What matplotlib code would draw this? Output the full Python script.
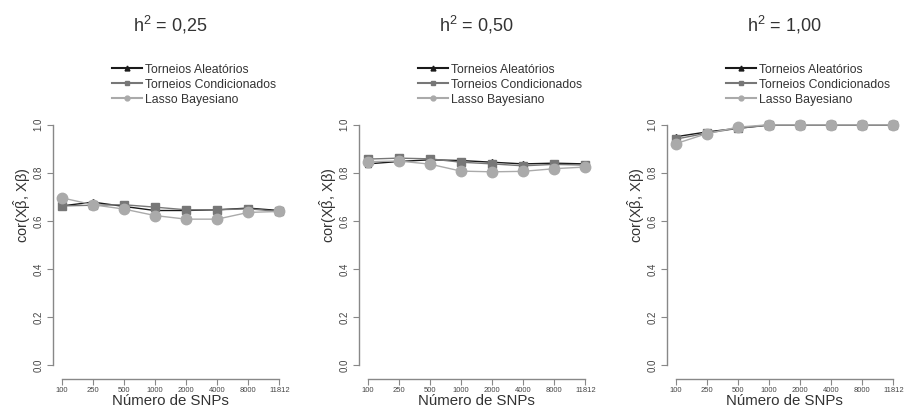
import matplotlib
matplotlib.use("Agg")
import matplotlib.pyplot as plt
from matplotlib.lines import Line2D

plt.rcParams['font.family'] = ['Liberation Sans', 'DejaVu Sans']
plt.rcParams['mathtext.fontset'] = 'custom'
plt.rcParams['mathtext.rm'] = 'Liberation Sans'
plt.rcParams['mathtext.it'] = 'Liberation Sans'
plt.rcParams['mathtext.bf'] = 'Liberation Sans'

snp_labels = ["100", "250", "500", "1000", "2000", "4000", "8000", "11812"]
titles = ["0,25", "0,50", "1,00"]
series_names = ["Torneios Aleatórios", "Torneios Condicionados", "Lasso Bayesiano"]

aleatorios = [
    [0.662, 0.678, 0.660, 0.643, 0.643, 0.646, 0.653, 0.643],
    [0.837, 0.847, 0.854, 0.851, 0.844, 0.837, 0.840, 0.837],
    [0.950, 0.970, 0.985, 0.999, 0.999, 0.999, 0.999, 0.999],
]
condicionados = [
    [0.662, 0.665, 0.667, 0.657, 0.646, 0.646, 0.650, 0.639],
    [0.857, 0.861, 0.858, 0.844, 0.837, 0.829, 0.835, 0.832],
    [0.940, 0.965, 0.985, 0.998, 0.998, 0.998, 0.998, 0.998],
]
lasso = [
    [0.696, 0.667, 0.649, 0.622, 0.607, 0.607, 0.635, 0.639],
    [0.846, 0.849, 0.836, 0.807, 0.804, 0.806, 0.817, 0.824],
    [0.921, 0.963, 0.990, 1.000, 1.000, 1.000, 1.000, 1.000],
]

W, H = 905, 407
fig = plt.figure(figsize=(W / 100, H / 100), dpi=100)

lefts = [53, 359, 667]
axw = 235
top_px, bot_px = 114.4, 374.6
axh = bot_px - top_px
x = list(range(1, 9))

styles = [
    dict(color="#1a1a1a", marker="^", ms=4.2, lw=1.0, mec="#1a1a1a"),
    dict(color="#777777", marker="s", ms=6.0, lw=1.0, mec="#777777"),
    dict(color="#aaaaaa", marker="o", ms=7.5, lw=1.0, mec="#aaaaaa"),
]
axis_col = "#888888"
txt_col = "#333333"


def ax_y(px):
    return (bot_px - px) / axh


def ax_dx(dpx):
    return dpx / axw


for i in range(3):
    left = lefts[i]
    ax = fig.add_axes([left / W, 1 - bot_px / H, axw / W, axh / H])
    for data, st, name in zip([aleatorios[i], condicionados[i], lasso[i]], styles, series_names):
        ax.plot(x, data, label=name, **st)
    ax.set_xlim(0.72, 8.28)
    ax.set_ylim(-0.04, 1.043)
    for s in ["top", "right"]:
        ax.spines[s].set_visible(False)
    ax.spines["left"].set_bounds(0, 1)
    ax.spines["bottom"].set_bounds(1, 8)
    ax.spines["bottom"].set_position(("outward", 3.5))
    for s in ["left", "bottom"]:
        ax.spines[s].set_color(axis_col)
        ax.spines[s].set_linewidth(1.0)
    ax.set_yticks([0.0, 0.2, 0.4, 0.6, 0.8, 1.0])
    ax.set_yticklabels(["0.0", "0.2", "0.4", "0.6", "0.8", "1.0"], rotation=90, va="center")
    ax.set_xticks(x)
    ax.set_xticklabels(snp_labels)
    ax.tick_params(axis="y", colors=axis_col, labelcolor="#444444", labelsize=7, length=4, pad=3)
    ax.tick_params(axis="x", colors=axis_col, labelcolor="#444444", labelsize=5.5, length=4, pad=1.5)
    ax.set_xlabel("Número de SNPs", fontsize=10.8, color=txt_col, va="center")
    ax.xaxis.set_label_coords(0.5, ax_y(401))
    ax.set_ylabel(r"cor(X$\hat{\beta}$, X$\beta$)", fontsize=10.5, color=txt_col, va="center")
    ax.yaxis.set_label_coords(ax_dx(-31), ax_y(205))
    ax.text(0.5, ax_y(25), r"h$^2$ = " + titles[i], transform=ax.transAxes,
            fontsize=13, color=txt_col, ha="center", va="center")
    handles = [Line2D([], [], color=st["color"], marker=st["marker"],
                      ms=3.5, lw=1.5) for st in styles]
    ax.legend(handles, series_names, loc="upper left",
              bbox_to_anchor=(ax_dx(59), ax_y(63.5)),
              frameon=False, fontsize=8.8, handlelength=2.45, handletextpad=0.25,
              labelspacing=0.25, borderaxespad=0, borderpad=0, labelcolor=txt_col)

fig.savefig("out.png", dpi=100)
